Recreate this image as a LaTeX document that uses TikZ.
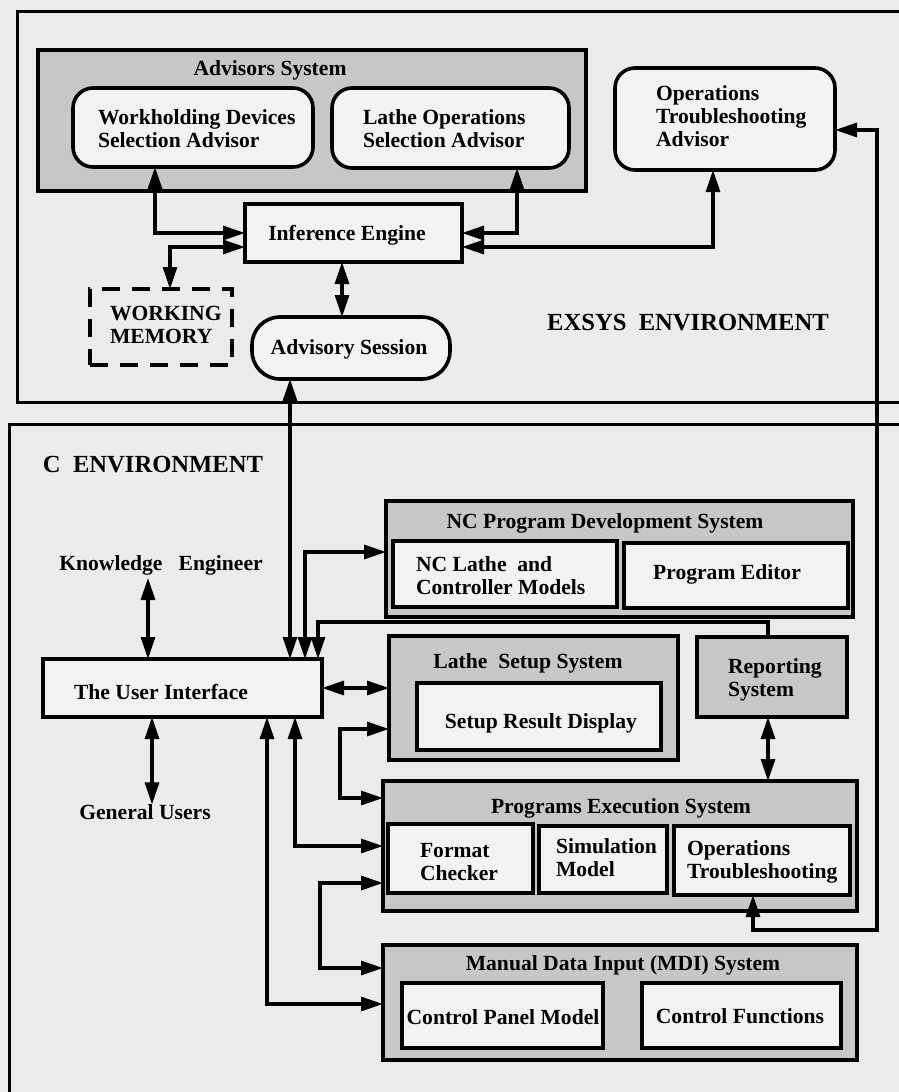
\documentclass[tikz,border=0pt]{standalone}
\usepackage{fontspec}
\setmainfont{Liberation Serif}
\usetikzlibrary{arrows.meta}
\definecolor{paper}{gray}{0.92}
\definecolor{shade}{gray}{0.78}
\definecolor{inner}{gray}{0.95}
\newcommand\mybox[6]{%
  \node[#2, minimum width={(#5-#3)*0.5pt}, minimum height={(#6-#4)*0.5pt}] (#1) at ({(#3+#5)/2},{(#4+#6)/2}) {};}
\begin{document}
\begin{tikzpicture}[x=0.5pt,y=-0.5pt,
  every node/.style={font=\bfseries\fontsize{10.8}{11.5}\selectfont, inner sep=0pt, outer sep=0pt},
  envlbl/.style={font=\bfseries\fontsize{12.3}{14}\selectfont},
  envbox/.style={draw, line width=1.5pt},
  shadedbox/.style={draw, line width=1.8pt, fill=shade, rectangle},
  plainbox/.style={draw, line width=1.8pt, fill=inner, rectangle},
  roundbox/.style={draw, line width=1.8pt, fill=inner, rectangle, rounded corners=10pt},
  pillbox/.style={draw, line width=1.8pt, fill=inner, rectangle, rounded corners=14pt},
  dashbox/.style={draw, line width=1.8pt, dashed, dash pattern=on 9pt off 6pt, rectangle},
  lefttxt/.style={anchor=west, align=left},
  conn/.style={line width=1.6pt},
  tip/.style={conn, -{Triangle[length=11pt,width=7pt]}},
  dbl/.style={conn, {Triangle[length=11pt,width=7pt]}-{Triangle[length=11pt,width=7pt]}}]
\fill[paper] (0,0) rectangle (899,1092);
\useasboundingbox (0,0) rectangle (899,1092);
% environments
\mybox{exsys}{envbox}{17}{11}{940}{402}
\mybox{cenv}{envbox}{9}{424}{940}{1130}
\node[envlbl] (exsyslbl) at (688,323) {EXSYS\ \ ENVIRONMENT};
\node[envlbl] (cenvlbl) at (153,465) {C\ \ ENVIRONMENT};
% Advisors system
\mybox{adv}{shadedbox}{38}{50}{586}{191}
\node (advlbl) at (270,70) {Advisors System};
\mybox{wd}{roundbox}{73}{88}{313}{167}
\node[lefttxt] (wdlbl) at (98,129) {Workholding Devices\\Selection Advisor};
\mybox{lo}{roundbox}{332}{88}{569}{168}
\node[lefttxt] (lolbl) at (363,129) {Lathe Operations\\Selection Advisor};
\mybox{ota}{roundbox}{615}{68}{835}{170}
\node[lefttxt] (otalbl) at (656,116) {Operations\\Troubleshooting\\Advisor};
\mybox{ie}{plainbox}{245}{204}{462}{262}
\node (ielbl) at (347,235) {Inference Engine};
\mybox{wm}{dashbox}{90}{289}{232}{365}
\node[lefttxt] (wmlbl) at (110,325) {WORKING\\MEMORY};
\mybox{as}{pillbox}{252}{317}{450}{379}
\node (aslbl) at (349,349) {Advisory Session};
% C environment
\node (ke) at (161,565) {Knowledge\ \ \ Engineer};
\mybox{ui}{plainbox}{43}{659}{322}{717}
\node (uilbl) at (161,692) {The User Interface};
\node (gu) at (145,812) {General Users};
\mybox{ncp}{shadedbox}{386}{501}{853}{617}
\node (ncplbl) at (605,523) {NC Program Development System};
\mybox{ncl}{plainbox}{393}{541}{617}{607}
\node[lefttxt] (ncllbl) at (416,576) {NC Lathe\ \ and\\Controller Models};
\mybox{pe}{plainbox}{624}{543}{848}{608}
\node (pelbl) at (727,574) {Program Editor};
\mybox{ls}{shadedbox}{389}{636}{678}{760}
\node (lslbl) at (528,663) {Lathe\ \ Setup System};
\mybox{srd}{plainbox}{417}{683}{661}{750}
\node (srdlbl) at (541,723) {Setup Result Display};
\mybox{rs}{shadedbox}{697}{637}{847}{717}
\node[lefttxt] (rslbl) at (728,680) {Reporting\\System};
\mybox{pes}{shadedbox}{383}{781}{857}{911}
\node (peslbl) at (621,808) {Programs Execution System};
\mybox{fc}{plainbox}{388}{824}{533}{893}
\node[lefttxt] (fclbl) at (420,862) {Format\\Checker};
\mybox{sm}{plainbox}{539}{826}{667}{893}
\node[lefttxt] (smlbl) at (556,858) {Simulation\\Model};
\mybox{ot}{plainbox}{674}{826}{850}{895}
\node[lefttxt] (otlbl) at (687,862) {Operations\\Troubleshooting};
\mybox{mdi}{shadedbox}{383}{945}{857}{1060}
\node (mdilbl) at (623,965) {Manual Data Input (MDI) System};
\mybox{cpm}{plainbox}{402}{983}{603}{1048}
\node (cpmlbl) at (503,1017) {Control Panel Model};
\mybox{cf}{plainbox}{642}{983}{841}{1048}
\node (cflbl) at (740,1016) {Control Functions};
% connectors (EXSYS)
\draw[dbl] (155,0 |- wd.south) |- (ie.west |- 0,233);
\draw[dbl] (ie.west |- 0,247) -| (170,0 |- wm.north);
\draw[dbl] (517,0 |- lo.south) |- (ie.east |- 0,233);
\draw[dbl] (713,0 |- ota.south) |- (ie.east |- 0,247);
\draw[dbl] (342,0 |- ie.south) -- (342,0 |- as.north);
\draw[dbl] (290,0 |- as.south) -- (290,0 |- ui.north);
% connectors (C)
\draw[dbl] (148,578) -- (148,0 |- ui.north);
\draw[dbl] (152,0 |- ui.south) -- (152,0 |- gu.north);
\draw[dbl] (305,0 |- ui.north) |- (ncp.west |- 0,552);
\draw[tip] (768,0 |- rs.north) -- (768,622) -- (318,622) -- (318,0 |- ui.north);
\draw[dbl] (ui.east |- 0,688) -- (ls.west |- 0,688);
\draw[dbl] (ls.west |- 0,729) -- (340,729) -- (340,798) -- (pes.west |- 0,798);
\draw[dbl] (295,0 |- ui.south) |- (pes.west |- 0,846);
\draw[dbl] (pes.west |- 0,883) -- (320,883) -- (320,968) -- (mdi.west |- 0,968);
\draw[dbl] (267,0 |- ui.south) |- (mdi.west |- 0,1004);
\draw[dbl] (768,0 |- rs.south) -- (768,0 |- pes.north);
\draw[dbl] (753,0 |- ot.south) -- (753,930) -- (877,930) -- (877,130) -- (ota.east |- 0,130);
\end{tikzpicture}
\end{document}
